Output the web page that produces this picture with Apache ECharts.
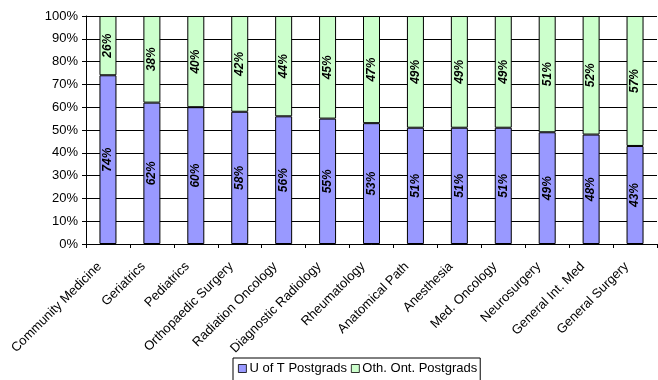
<!DOCTYPE html>
<html>
<head>
<meta charset="utf-8">
<script src="https://cdn.jsdelivr.net/npm/echarts@6/dist/echarts.min.js"></script>
<style>
html,body{margin:0;padding:0;background:#fff;}
#chart{width:658px;height:380px;}
</style>
</head>
<body>
<div id="chart"></div>
<script>
// Share of postgraduate trainees by specialty
const categories = ['Community Medicine','Geriatrics','Pediatrics','Orthopaedic Surgery','Radiation Oncology','Diagnostic Radiology','Rheumatology','Anatomical Path','Anesthesia','Med. Oncology','Neurosurgery','General Int. Med','General Surgery'];
const uofT = [74,62,60,58,56,55,53,51,51,51,49,48,43];
const otherOnt = [26,38,40,42,44,45,47,49,49,49,51,52,57];
const yTicks = [0,10,20,30,40,50,60,70,80,90,100];

const FONT = 'Arial, "Liberation Sans", sans-serif';
const chart = echarts.init(document.getElementById('chart'));
const labelStyle = {
  show: true,
  position: 'inside',
  rotate: 90,
  fontFamily: FONT,
  fontSize: 12,
  fontWeight: 'bold',
  fontStyle: 'italic',
  color: '#000',
  formatter: p => p.value + '%'
};
chart.setOption({
  animation: false,
  grid: {left: 86, top: 16, right: 1, bottom: 136},
  legend: {
    left: 233, top: 358,
    itemWidth: 8, itemHeight: 8, itemGap: 4,
    borderColor: '#000', borderWidth: 1,
    padding: [4, 3, 6, 5],
    textStyle: {fontFamily: FONT, fontSize: 13, color: '#000', padding: [0,0,0,-2]},
    data: [
      {name: 'U of T Postgrads', icon: 'rect', itemStyle: {borderColor: '#000', borderWidth: 0.8}},
      {name: 'Oth. Ont. Postgrads', icon: 'rect', itemStyle: {borderColor: '#000', borderWidth: 0.8}}
    ]
  },
  xAxis: {
    type: 'category',
    data: categories,
    axisLine: {lineStyle: {color: '#000', width: 1}},
    axisTick: {show: true, alignWithLabel: false, length: 4, lineStyle: {color: '#000'}},
    axisLabel: {
      interval: 0, rotate: 45, margin: 12,
      padding: [0, 12, 0, 0],
      fontFamily: FONT, fontSize: 13, color: '#000'
    }
  },
  yAxis: {
    type: 'value',
    min: 0, max: 100, interval: 10,
    axisLine: {show: true, lineStyle: {color: '#000', width: 1}},
    axisTick: {show: true, length: 4, lineStyle: {color: '#000'}},
    splitLine: {show: true, lineStyle: {color: '#000', width: 1}},
    axisLabel: {
      margin: 8,
      fontFamily: FONT, fontSize: 13, color: '#000',
      formatter: v => yTicks.includes(v) ? v + '%' : ''
    }
  },
  series: [
    {
      name: 'U of T Postgrads', type: 'bar', stack: 'total', data: uofT,
      barWidth: 17,
      itemStyle: {color: '#9999FF', borderColor: '#000', borderWidth: 1},
      label: labelStyle
    },
    {
      name: 'Oth. Ont. Postgrads', type: 'bar', stack: 'total', data: otherOnt,
      barWidth: 17,
      itemStyle: {color: '#CCFFCC', borderColor: '#000', borderWidth: 1},
      label: labelStyle
    }
  ]
});
</script>
</body>
</html>
